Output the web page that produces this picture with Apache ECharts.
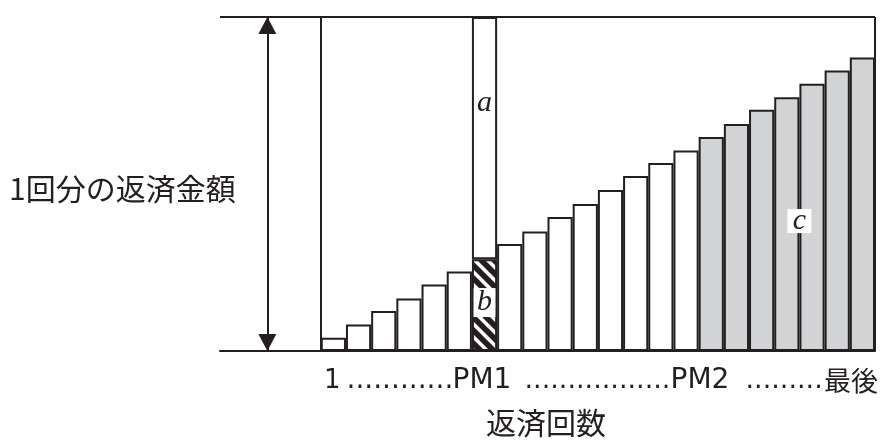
<!DOCTYPE html>
<html>
<head>
<meta charset="utf-8">
<script src="https://cdn.jsdelivr.net/npm/echarts@6/dist/echarts.min.js"></script>
<style>
html,body{margin:0;padding:0;background:#ffffff;}
#chart{width:885px;height:441px;}
</style>
</head>
<body>
<div id="chart"></div>
<script>
// ---- data ----
const leadingBlank = ['', '', '', ''];
const paymentNo = ['1','2','3','4','5','6','7','8','9','10','11','12','13','14','15','16','17','18','19','20','21','22'];
// 1回分の返済金額 (amount units, full scale = 100)
const payments = [4.0, 7.9, 12.0, 15.7, 19.9, 23.8, 27.5, 32.0, 35.8, 40.1, 44.0, 48.2, 52.4, 56.3, 60.0, 64.1, 68.0, 72.2, 76.0, 80.0, 84.0, 87.9];
const fullAmount = 100;
const pm1No = 7;     // PM1 payment
const pm2No = 16;    // first payment after PM2 (gray)
const xLabelParts = ['1', '............', 'PM1', '.................', 'PM2', '.........', '最後'];
const yTitle = '1回分の返済金額';
const xTitle = '返済回数';
const markLetters = ['a', 'b', 'c'];

// ---- styles ----
const INK = '#231f20';
const GRAY = '#d1d3d4';
const LATIN = '"DejaVu Sans"';

const T = 13;
const hc = document.createElement('canvas');
hc.width = T; hc.height = T;
const g = hc.getContext('2d');
g.fillStyle = '#ffffff'; g.fillRect(0, 0, T, T);
g.strokeStyle = INK; g.lineWidth = 5.6;
[-T, 0, T].forEach(function (k) {
  g.beginPath(); g.moveTo(k - 3, -3); g.lineTo(k + T + 3, T + 3); g.stroke();
});
const hatch = { image: hc, repeat: 'repeat' };

const categories = leadingBlank.concat(paymentNo);
const nLead = leadingBlank.length;

const payData = leadingBlank.map(function () { return null; }).concat(
  payments.map(function (v, i) {
    const no = i + 1;
    const col = no === pm1No ? hatch : (no >= pm2No ? GRAY : '#ffffff');
    return { value: v, itemStyle: { color: col } };
  })
);
const topData = categories.map(function (c, i) {
  return (i === nLead + pm1No - 1) ? fullAmount - payments[pm1No - 1] : null;
});

const pm1Center = nLead + pm1No - 0.5;
const cPos = nLead + 19;

const richStyles = {
  n:  { width: 22.5, fontSize: 26, lineHeight: 30, fontFamily: LATIN, color: INK },
  d1: { width: 106, fontSize: 28, lineHeight: 30, fontFamily: LATIN, color: INK },
  p1: { width: 72, fontSize: 28, lineHeight: 30, fontFamily: LATIN, color: INK },
  d2: { width: 146, fontSize: 27, lineHeight: 30, fontFamily: LATIN, color: INK },
  p2: { width: 75, fontSize: 28, lineHeight: 30, fontFamily: LATIN, color: INK },
  d3: { width: 78.5, fontSize: 27, lineHeight: 30, fontFamily: LATIN, color: INK },
  e:  { fontSize: 27, lineHeight: 30, fontFamily: 'Noto Sans CJK JP', color: INK }
};
const richKeys = ['n', 'd1', 'p1', 'd2', 'p2', 'd3', 'e'];
const xLabelText = xLabelParts.map(function (t, i) { return '{' + richKeys[i] + '|' + t + '}'; }).join('');

const letterLabel = {
  show: true, position: 'inside', formatter: function (p) { return p.value[2]; },
  fontFamily: 'Liberation Serif', fontStyle: 'italic', fontSize: 30, color: INK,
  textBorderWidth: 0, opacity: 1
};

const option = {
  animation: false,
  backgroundColor: '#ffffff',
  title: [
    { text: xLabelText, left: 324, top: 366, padding: 0, textStyle: { rich: richStyles, fontFamily: LATIN, fontSize: 26, lineHeight: 30, color: INK, fontWeight: 'normal' } },
    { text: yTitle, left: 9, top: 174, padding: 0, textStyle: { fontFamily: 'Noto Sans CJK JP', fontSize: 30, lineHeight: 30, fontWeight: 'normal', color: INK } },
    { text: xTitle, left: 486, top: 408, padding: 0, textStyle: { fontFamily: 'Noto Sans CJK JP', fontSize: 30, lineHeight: 30, fontWeight: 'normal', color: INK } }
  ],
  grid: { left: 220, right: 10, top: 17, bottom: 90, containLabel: false },
  xAxis: [
    {
      type: 'category', data: categories, boundaryGap: true,
      axisLine: { show: true, lineStyle: { color: INK, width: 2 } },
      axisTick: { show: false }, axisLabel: { show: false }, splitLine: { show: false }
    },
    {
      type: 'value', min: 0, max: categories.length, show: false, splitLine: { show: false }
    }
  ],
  yAxis: { type: 'value', min: 0, max: fullAmount, show: false, splitLine: { show: false } },
  series: [
    {
      type: 'bar', name: 'payment', stack: 'p', xAxisIndex: 0, data: payData,
      barCategoryGap: '0%', barGap: '0%',
      itemStyle: { borderColor: INK, borderWidth: 2 }
    },
    {
      type: 'bar', name: 'a', stack: 'p', xAxisIndex: 0, data: topData,
      barCategoryGap: '0%', barGap: '0%',
      itemStyle: { color: '#ffffff', borderColor: INK, borderWidth: 2 }
    },
    {
      type: 'scatter', xAxisIndex: 1, z: 5, symbolSize: 1,
      itemStyle: { color: 'rgba(0,0,0,0)', opacity: 1 },
      data: [
        { value: [pm1Center, 74.3, markLetters[0]], label: letterLabel },
        { value: [pm1Center, 14.5, markLetters[1]], label: Object.assign({}, letterLabel, { backgroundColor: '#ffffff', width: 22, height: 29, lineHeight: 29, align: 'center', verticalAlign: 'middle' }) },
        { value: [cPos, 38.9, markLetters[2]], label: Object.assign({}, letterLabel, { backgroundColor: '#ffffff', width: 24, height: 24, lineHeight: 24, align: 'center', verticalAlign: 'middle' }) }
      ],
      markLine: {
        silent: true, animation: false,
        symbol: ['none', 'none'],
        label: { show: false },
        lineStyle: { color: INK, width: 2, type: 'solid' },
        data: [
          { xAxis: nLead },
          { xAxis: categories.length },
          { yAxis: fullAmount },
          [
            { coord: [1.88, 0], symbol: 'triangle', symbolSize: [18, 17], symbolOffset: [0, 8.5] },
            { coord: [1.88, fullAmount], symbol: 'triangle', symbolSize: [18, 17], symbolOffset: [0, 8.5] }
          ]
        ]
      }
    }
  ]
};

const chart = echarts.init(document.getElementById('chart'), null, { renderer: 'canvas' });
chart.setOption(option);
</script>
</body>
</html>
